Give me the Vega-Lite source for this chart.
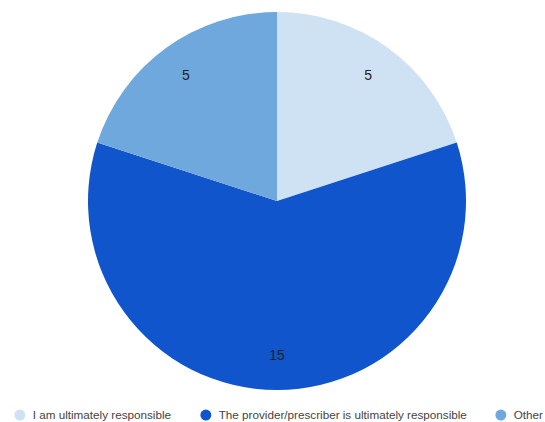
{
  "$schema": "https://vega.github.io/schema/vega-lite/v6.json",
  "autosize": {"type": "none"},
  "padding": {"left": 9, "top": 0, "right": 0, "bottom": 20},
  "width": 536,
  "height": 402,
  "background": "white",
  "data": {
    "values": [
      {"answer": "I am ultimately responsible", "count": 5, "order": 1},
      {"answer": "The provider/prescriber is ultimately responsible", "count": 15, "order": 2},
      {"answer": "Other", "count": 5, "order": 3}
    ]
  },
  "encoding": {
    "theta": {"field": "count", "type": "quantitative", "stack": true},
    "order": {"field": "order", "type": "quantitative"}
  },
  "layer": [
    {
      "mark": {"type": "arc", "outerRadius": 189},
      "encoding": {
        "color": {
          "field": "answer",
          "type": "nominal",
          "scale": {
            "domain": ["I am ultimately responsible", "The provider/prescriber is ultimately responsible", "Other"],
            "range": ["#cfe2f3", "#1155cc", "#6fa8dc"]
          },
          "legend": {
            "title": null,
            "orient": "none",
            "direction": "horizontal",
            "legendX": 5,
            "legendY": 409,
            "symbolType": "circle",
            "symbolSize": 120,
            "symbolStrokeWidth": 0,
            "labelFont": "Liberation Sans",
            "labelFontSize": 11.7,
            "labelColor": "#444444",
            "labelOffset": 7,
            "columnPadding": 28,
            "labelLimit": 400
          }
        }
      }
    },
    {
      "mark": {"type": "text", "radius": 155, "font": "Liberation Sans", "fontSize": 14, "color": "#222222"},
      "encoding": {
        "text": {"field": "count", "type": "quantitative"}
      }
    }
  ]
}
